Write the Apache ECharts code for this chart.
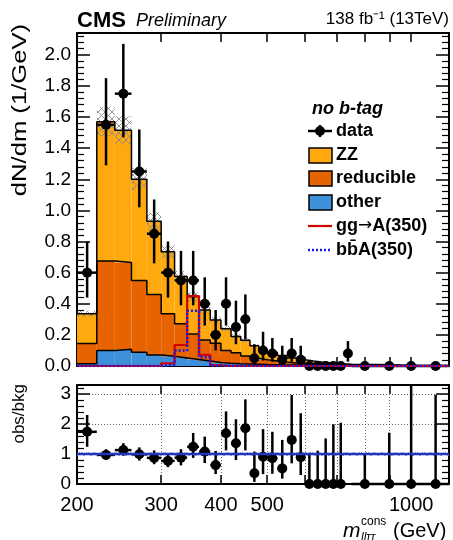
<!DOCTYPE html>
<html>
<head>
<meta charset="utf-8">
<script src="https://cdn.jsdelivr.net/npm/echarts@6/dist/echarts.min.js"></script>
<style>
  html, body { margin: 0; padding: 0; background: #fff; }
  #chart { width: 453px; height: 540px; }
</style>
</head>
<body>
<div id="chart"></div>
<script>
// bin edges in GeV (29 bins)
const edges = [200, 220, 240, 260, 280, 300, 320, 340, 360, 380, 400, 420, 440, 460, 480, 500,
  525, 550, 575, 600, 625, 650, 675, 700, 725, 750, 850, 950, 1050, 1200];

// background components, stacked bottom to top
const other = [0.014, 0.100, 0.107, 0.088, 0.070, 0.062, 0.052, 0.042, 0.032, 0.022, 0.018, 0.015, 0.013, 0.011,
  0.009, 0.008, 0.007, 0.006, 0.005, 0.004, 0.004, 0.003, 0.003, 0.002, 0.002, 0.002, 0.001, 0.001, 0.001];
const reducible = [0.131, 0.575, 0.558, 0.462, 0.390, 0.273, 0.220, 0.163, 0.135, 0.124, 0.082, 0.070, 0.052, 0.039,
  0.031, 0.024, 0.018, 0.014, 0.011, 0.008, 0.006, 0.005, 0.004, 0.004, 0.003, 0.002, 0.002, 0.001, 0.000];
const zz = [0.190, 0.895, 0.850, 0.650, 0.470, 0.400, 0.303, 0.240, 0.193, 0.149, 0.140, 0.105, 0.100, 0.080,
  0.065, 0.056, 0.043, 0.032, 0.024, 0.020, 0.016, 0.013, 0.010, 0.008, 0.007, 0.005, 0.003, 0.002, 0.002];
// half width of the hatched background uncertainty (main panel, 1/GeV)
const bkgUnc = [0.020, 0.095, 0.090, 0.070, 0.055, 0.045, 0.035, 0.030, 0.025, 0.020, 0.017, 0.014, 0.012, 0.010,
  0.008, 0.007, 0.006, 0.005, 0.004, 0.003, 0.003, 0.003, 0.002, 0.002, 0.002, 0.002, 0.001, 0.001, 0.001];
// half width of the hatched band around 1 in the ratio panel
const ratioUnc = [0.06, 0.06, 0.06, 0.06, 0.06, 0.06, 0.06, 0.06, 0.06, 0.06, 0.06, 0.06, 0.06, 0.06,
  0.06, 0.06, 0.06, 0.06, 0.06, 0.06, 0.06, 0.06, 0.06, 0.06, 0.06, 0.06, 0.06, 0.06, 0.06];

// signals
const ggA = [0, 0, 0, 0, 0, 0.017, 0.135, 0.450, 0.072, 0.005, 0, 0, 0, 0, 0, 0, 0, 0, 0, 0, 0, 0, 0, 0, 0, 0, 0, 0, 0];
const bbA = [0, 0, 0, 0, 0, 0.008, 0.100, 0.355, 0.057, 0.004, 0, 0, 0, 0, 0, 0, 0, 0, 0, 0, 0, 0, 0, 0, 0, 0, 0, 0, 0];

// data (1/GeV) and error bar ends
const dataVal = [0.60, 1.55, 1.75, 1.25, 0.85, 0.60, 0.55, 0.55, 0.40, 0.20, 0.40, 0.25, 0.30, 0.05,
  0.10, 0.08, 0.04, 0.08, 0.04, 0, 0, 0, 0, 0, 0.08, 0, 0, 0, 0];
const dataLo = [0.44, 1.29, 1.47, 1.02, 0.66, 0.44, 0.39, 0.39, 0.26, 0.10, 0.26, 0.14, 0.17, 0.01,
  0.035, 0.028, 0.007, 0.028, 0.007, 0, 0, 0, 0, 0, 0.028, 0, 0, 0, 0];
const dataHi = [0.80, 1.85, 2.07, 1.52, 1.07, 0.80, 0.74, 0.74, 0.57, 0.36, 0.57, 0.42, 0.46, 0.14,
  0.22, 0.18, 0.13, 0.18, 0.13, 0, 0, 0, 0, 0, 0.16, 0, 0, 0, 0];

// obs/bkg
const ratioVal = [1.74, 0.97, 1.13, 0.99, 0.87, 0.77, 0.88, 1.24, 1.08, 0.63, 1.69, 1.36, 1.86, 0.36,
  0.91, 0.86, 0.52, 1.47, 0.89, 0, 0, 0, 0, 0, null, 0, 0, 0, 0];
const ratioLo = [1.24, 0.80, 0.94, 0.78, 0.66, 0.56, 0.62, 0.87, 0.70, 0.33, 1.12, 0.80, 1.12, 0.07,
  0.33, 0.34, 0.18, 0.69, 0.30, 0, 0, 0, 0, 0, null, 0, 0, 0, 0];
const ratioHi = [2.30, 1.16, 1.36, 1.22, 1.12, 1.02, 1.16, 1.70, 1.58, 1.10, 2.42, 2.16, 2.82, 1.08,
  1.83, 1.74, 1.47, 2.97, 2.36, 1.04, 1.11, 1.52, 1.99, 2.04, null, 1.00, 1.71, 3.30, 2.97];

const xTicks = [200, 300, 400, 500, 600, 700, 800, 900, 1000];
const xLabels = [200, 300, 400, 500, 1000];

const lg = Math.log10;
const X0 = lg(200), X1 = lg(1200);
const FONT = 'Liberation Sans';

// cumulative stack levels
let lvOther = [], lvRed = [], lvTop = [];
for (let i = 0; i < zz.length; i++) {
  lvOther.push(other[i]);
  lvRed.push(other[i] + reducible[i]);
  lvTop.push(other[i] + reducible[i] + zz[i]);
}

function rectData(base, top) {
  return top.map((t, i) => [lg(edges[i]), lg(edges[i + 1]), base ? base[i] : 0, t]);
}
function stepData(vals) {
  let d = vals.map((v, i) => [lg(edges[i]), v]);
  d.push([lg(edges[edges.length - 1]), vals[vals.length - 1]]);
  return d;
}
function errData(val, lo, hi) {
  let d = [];
  val.forEach((v, i) => {
    if (v === null) return;
    d.push([lg(edges[i]), lg(edges[i + 1]), lg((edges[i] + edges[i + 1]) / 2), v, lo[i], hi[i]]);
  });
  return d;
}

function hatchCanvas() {
  let c = document.createElement('canvas');
  c.width = 7; c.height = 7;
  let g = c.getContext('2d');
  g.strokeStyle = '#8a8a8a';
  g.lineWidth = 0.9;
  g.beginPath();
  g.moveTo(0, 0); g.lineTo(7, 7);
  g.moveTo(7, 0); g.lineTo(0, 7);
  g.stroke();
  return c;
}
const hatch = { image: hatchCanvas(), repeat: 'repeat' };

function rectRender(fill) {
  return function (params, api) {
    let p0 = api.coord([api.value(0), api.value(3)]);
    let p1 = api.coord([api.value(1), api.value(2)]);
    return {
      type: 'rect',
      shape: { x: p0[0], y: p0[1], width: p1[0] - p0[0], height: p1[1] - p0[1] },
      style: { fill: fill }
    };
  };
}

function errRender(params, api) {
  let xl = api.value(0), xh = api.value(1), xc = api.value(2);
  let v = api.value(3), lo = api.value(4), hi = api.value(5);
  let c = api.coord([xc, v]);
  let a = api.coord([xl, v]), b = api.coord([xh, v]);
  let ls = { stroke: '#000', lineWidth: 2.5 };
  let kids = [{ type: 'line', shape: { x1: a[0], y1: c[1], x2: b[0], y2: c[1] }, style: ls }];
  if (hi > v) {
    let t = api.coord([xc, hi]);
    kids.push({ type: 'line', shape: { x1: c[0], y1: c[1], x2: c[0], y2: t[1] }, style: ls });
  }
  if (lo < v) {
    let t = api.coord([xc, lo]);
    kids.push({ type: 'line', shape: { x1: c[0], y1: c[1], x2: c[0], y2: t[1] }, style: ls });
  }
  kids.push({ type: 'circle', shape: { cx: c[0], cy: c[1], r: 5 }, style: { fill: '#000' } });
  return { type: 'group', children: kids };
}

function xAxis(grid, pos, labels, grid2) {
  return {
    type: 'value', gridIndex: grid, position: pos, min: X0, max: X1,
    axisLine: { show: true, onZero: false, lineStyle: { color: '#000', width: 2 } },
    axisTick: { show: true, inside: true, length: 9, customValues: xTicks.map(lg), lineStyle: { color: '#000', width: 1.5 } },
    axisLabel: {
      show: labels, customValues: xLabels.map(lg), margin: 11,
      formatter: v => String(Math.round(Math.pow(10, v))),
      fontFamily: FONT, fontSize: 20, color: '#000'
    },
    splitLine: { show: !!grid2, lineStyle: { color: '#666', type: [1, 2], width: 1 } }
  };
}
function yAxis(grid, pos, max, interval, labels, fmt, split) {
  return {
    type: 'value', gridIndex: grid, position: pos, min: 0, max: max, interval: interval,
    axisLine: { show: true, onZero: false, lineStyle: { color: '#000', width: 2 } },
    axisTick: { show: true, inside: true, length: 13, lineStyle: { color: '#000', width: 1.5 } },
    minorTick: { show: true, splitNumber: 5, length: 7, lineStyle: { color: '#000', width: 1.2 } },
    axisLabel: { show: labels, showMaxLabel: false, margin: 6, formatter: fmt, fontFamily: FONT, fontSize: 19, color: '#000' },
    splitLine: { show: !!split, lineStyle: { color: '#666', type: [1, 2], width: 1 } }
  };
}

const lineBase = { type: 'line', symbol: 'none', step: 'end', silent: true, clip: true, animation: false };

const option = {
  animation: false,
  grid: [
    { left: 77, top: 33, width: 372, height: 333 },
    { left: 77, top: 385, width: 372, height: 99 }
  ],
  xAxis: [
    xAxis(0, 'bottom', false),
    xAxis(0, 'top', false),
    xAxis(1, 'bottom', true, true),
    xAxis(1, 'top', false)
  ],
  yAxis: [
    yAxis(0, 'left', 2.14, 0.2, true, v => v.toFixed(1)),
    yAxis(0, 'right', 2.14, 0.2, false),
    yAxis(1, 'left', 3.3, 1, true, v => String(v), true),
    yAxis(1, 'right', 3.3, 1, false)
  ],
  series: [
    { type: 'custom', xAxisIndex: 0, yAxisIndex: 0, renderItem: rectRender('#3f90da'), encode: { x: [0, 1], y: [2, 3] }, data: rectData(null, lvOther) },
    { type: 'custom', xAxisIndex: 0, yAxisIndex: 0, renderItem: rectRender('#e76300'), encode: { x: [0, 1], y: [2, 3] }, data: rectData(lvOther, lvRed) },
    { type: 'custom', xAxisIndex: 0, yAxisIndex: 0, renderItem: rectRender('#ffa90e'), encode: { x: [0, 1], y: [2, 3] }, data: rectData(lvRed, lvTop) },
    Object.assign({}, lineBase, { xAxisIndex: 0, yAxisIndex: 0, data: stepData(lvOther), lineStyle: { color: '#000', width: 1.5 } }),
    Object.assign({}, lineBase, { xAxisIndex: 0, yAxisIndex: 0, data: stepData(lvRed), lineStyle: { color: '#000', width: 1.5 } }),
    Object.assign({}, lineBase, { xAxisIndex: 0, yAxisIndex: 0, data: stepData(lvTop), lineStyle: { color: '#000', width: 1.5 } }),
    {
      type: 'custom', xAxisIndex: 0, yAxisIndex: 0, renderItem: rectRender(hatch), encode: { x: [0, 1], y: [2, 3] },
      data: rectData(lvTop.map((t, i) => t - bkgUnc[i]), lvTop.map((t, i) => t + bkgUnc[i]))
    },
    Object.assign({}, lineBase, { xAxisIndex: 0, yAxisIndex: 0, data: stepData(ggA), lineStyle: { color: '#d40000', width: 2.2 } }),
    Object.assign({}, lineBase, { xAxisIndex: 0, yAxisIndex: 0, data: stepData(bbA), lineStyle: { color: '#1a1ae6', width: 2.5, type: [2, 2] } }),
    { type: 'custom', xAxisIndex: 0, yAxisIndex: 0, renderItem: errRender, encode: { x: [0, 1, 2], y: [3, 4, 5] }, data: errData(dataVal, dataLo, dataHi) },

    {
      type: 'custom', xAxisIndex: 2, yAxisIndex: 2, renderItem: rectRender(hatch), encode: { x: [0, 1], y: [2, 3] },
      data: rectData(ratioUnc.map(u => 1 - u), ratioUnc.map(u => 1 + u))
    },
    Object.assign({}, lineBase, { step: false, xAxisIndex: 2, yAxisIndex: 2, data: [[X0, 1], [X1, 1]], lineStyle: { color: '#1f35c8', width: 2.5 } }),
    { type: 'custom', xAxisIndex: 2, yAxisIndex: 2, renderItem: errRender, encode: { x: [0, 1, 2], y: [3, 4, 5] }, data: errData(ratioVal, ratioLo, ratioHi) }
  ],
  graphic: [
    { type: 'text', left: 77, top: 10, style: { text: 'CMS', font: 'bold 22px ' + FONT, fill: '#000' } },
    { type: 'text', left: 136, top: 12, style: { text: 'Preliminary', font: 'italic 18px ' + FONT, fill: '#000' } },
    { type: 'text', right: 4, top: 11, style: { text: '138 fb\u207B\u00B9 (13TeV)', font: '17px ' + FONT, fill: '#000' } },
    { type: 'text', x: 20, y: 24, rotation: Math.PI / 2, scaleX: 1.28, style: { text: 'dN/dm (1/GeV)', font: '20px ' + FONT, fill: '#000', align: 'right', verticalAlign: 'middle' } },
    { type: 'text', x: 19, y: 384, rotation: Math.PI / 2, style: { text: 'obs/bkg', font: '17px ' + FONT, fill: '#000', align: 'right', verticalAlign: 'middle' } },

    { type: 'text', x: 312, y: 109, style: { text: 'no b-tag', font: 'italic bold 18px ' + FONT, fill: '#000', verticalAlign: 'middle' } },
    { type: 'line', shape: { x1: 308, y1: 131, x2: 332, y2: 131 }, style: { stroke: '#000', lineWidth: 2.5 } },
    { type: 'line', shape: { x1: 320, y1: 125, x2: 320, y2: 137 }, style: { stroke: '#000', lineWidth: 2.5 } },
    { type: 'circle', shape: { cx: 320, cy: 131, r: 5 }, style: { fill: '#000' } },
    { type: 'text', x: 336, y: 131, style: { text: 'data', font: 'bold 18px ' + FONT, fill: '#000', verticalAlign: 'middle' } },
    { type: 'rect', shape: { x: 309, y: 148, width: 23, height: 15 }, style: { fill: '#ffa90e', stroke: '#000', lineWidth: 1.5 } },
    { type: 'text', x: 336, y: 155, style: { text: 'ZZ', font: 'bold 18px ' + FONT, fill: '#000', verticalAlign: 'middle' } },
    { type: 'rect', shape: { x: 309, y: 171, width: 23, height: 15 }, style: { fill: '#e76300', stroke: '#000', lineWidth: 1.5 } },
    { type: 'text', x: 336, y: 178, style: { text: 'reducible', font: 'bold 18px ' + FONT, fill: '#000', verticalAlign: 'middle' } },
    { type: 'rect', shape: { x: 309, y: 195, width: 23, height: 15 }, style: { fill: '#3f90da', stroke: '#000', lineWidth: 1.5 } },
    { type: 'text', x: 336, y: 202, style: { text: 'other', font: 'bold 18px ' + FONT, fill: '#000', verticalAlign: 'middle' } },
    { type: 'line', shape: { x1: 308, y1: 226, x2: 332, y2: 226 }, style: { stroke: '#d40000', lineWidth: 2.2 } },
    {
      type: 'text', x: 336, y: 226, style: {
        text: '{a|gg}{b|\u2192}{a|A(350)}', fill: '#000', verticalAlign: 'middle',
        rich: { a: { font: 'bold 18px ' + FONT }, b: { font: '17px DejaVu Sans' } }
      }
    },
    { type: 'line', shape: { x1: 308, y1: 250, x2: 332, y2: 250 }, style: { stroke: '#1a1ae6', lineWidth: 2.5, lineDash: [2, 2] } },
    { type: 'text', x: 336, y: 250, style: { text: 'bb\u0304A(350)', font: 'bold 18px ' + FONT, fill: '#000', verticalAlign: 'middle' } },

    { type: 'text', x: 343, y: 531, style: { text: 'm', font: 'italic 21px ' + FONT, fill: '#000', verticalAlign: 'middle' } },
    { type: 'text', x: 361, y: 522, style: { text: 'cons', font: '12px ' + FONT, fill: '#000', verticalAlign: 'middle' } },
    { type: 'text', x: 361, y: 538, style: { text: 'll\u03C4\u03C4', font: 'italic 12px ' + FONT, fill: '#000', verticalAlign: 'middle' } },
    { type: 'text', x: 393, y: 531, style: { text: '(GeV)', font: '20px ' + FONT, fill: '#000', verticalAlign: 'middle' } }
  ]
};

const chart = echarts.init(document.getElementById('chart'));
chart.setOption(option);
</script>
</body>
</html>
